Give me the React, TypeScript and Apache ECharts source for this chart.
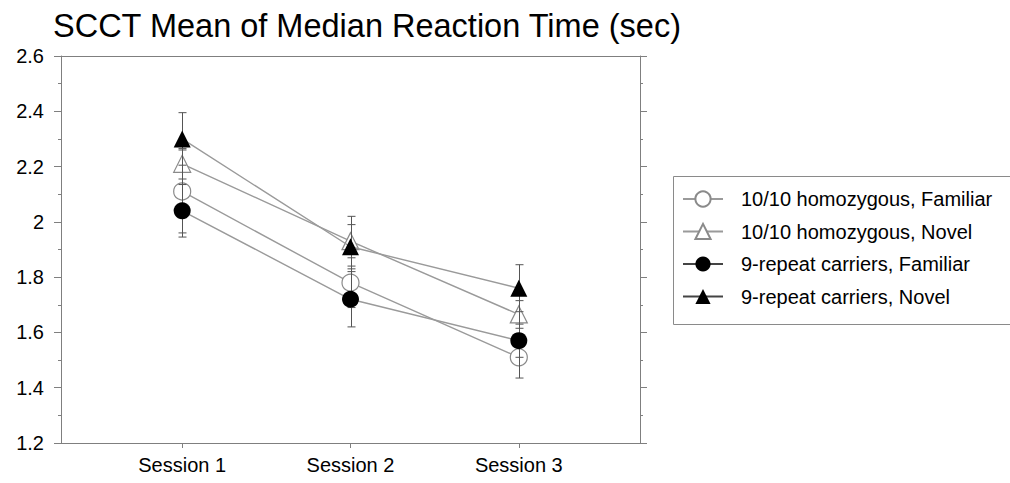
import React, { useEffect, useRef } from "react";
import * as echarts from "echarts";

const sessions = ["Session 1", "Session 2", "Session 3"];
const sessionTicks = [1, 2, 3];

const homFamiliar = [2.11, 1.78, 1.51];
const homFamiliarErr = [0.15, 0.09, 0.075];
const homNovel = [2.21, 1.93, 1.665];
const homNovelErr = [0.055, 0.09, 0.05];
const carFamiliar = [2.04, 1.72, 1.57];
const carFamiliarErr = [0.095, 0.1, 0.06];
const carNovel = [2.3, 1.91, 1.76];
const carNovelErr = [0.095, 0.08, 0.085];

const groups = [
  { name: "10/10 homozygous, Familiar", values: homFamiliar, errs: homFamiliarErr, symbol: "circle", filled: false },
  { name: "10/10 homozygous, Novel", values: homNovel, errs: homNovelErr, symbol: "triangle", filled: false },
  { name: "9-repeat carriers, Familiar", values: carFamiliar, errs: carFamiliarErr, symbol: "circle", filled: true },
  { name: "9-repeat carriers, Novel", values: carNovel, errs: carNovelErr, symbol: "triangle", filled: true },
];

const FONT = "'Liberation Sans', Arial, sans-serif";
const FRAME = "#7f7f7f";

export default function App() {
  const ref = useRef<HTMLDivElement>(null);
  useEffect(() => {
    if (!ref.current) return;
    const chart = echarts.init(ref.current, undefined, { renderer: "svg" });

    const lineSeries = groups.map((g) => ({
      type: "line",
      name: g.name,
      z: g.filled ? 4 : 2,
      data: g.values.map((v, i) => [sessionTicks[i], v]),
      symbol: g.symbol,
      symbolSize: 17,
      showSymbol: true,
      lineStyle: { color: "#9a9a9a", width: 1.4 },
      itemStyle: g.filled
        ? { color: "#000", borderColor: "#000", borderWidth: 0 }
        : { color: "#fff", borderColor: "#8a8a8a", borderWidth: 1.2 },
      emphasis: { disabled: true },
    }));

    const errData: number[][] = [];
    groups.forEach((g) => {
      g.values.forEach((v, i) => {
        errData.push([sessionTicks[i], v - g.errs[i], v + g.errs[i]]);
      });
    });

    const errSeries = {
      type: "custom",
      name: "err",
      z: 3,
      data: errData,
      encode: { x: 0, y: [1, 2] },
      renderItem: (params: any, api: any) => {
        const x = api.value(0);
        const lo = api.coord([x, api.value(1)]);
        const hi = api.coord([x, api.value(2)]);
        const w = 4;
        const style = { stroke: "#555", lineWidth: 1 };
        const cx = Math.round(lo[0]) + 0.5;
        return {
          type: "group",
          children: [
            { type: "line", shape: { x1: cx, y1: lo[1], x2: cx, y2: hi[1] }, style },
            { type: "line", shape: { x1: cx - w, y1: lo[1], x2: cx + w, y2: lo[1] }, style },
            { type: "line", shape: { x1: cx - w, y1: hi[1], x2: cx + w, y2: hi[1] }, style },
          ],
        };
      },
      silent: true,
    };

    chart.setOption({
      animation: false,
      title: {
        text: "SCCT Mean of Median Reaction Time (sec)",
        left: 48,
        top: 4,
        textStyle: { fontFamily: FONT, fontSize: 32.5, fontWeight: "normal", color: "#000" },
      },
      graphic: [
        {
          type: "rect",
          shape: { x: 673.5, y: 176.5, width: 400, height: 148 },
          style: { fill: "none", stroke: "#8a8a8a", lineWidth: 1 },
          silent: true,
        },
      ],
      legend: {
        orient: "vertical",
        left: 682,
        top: 189,
        padding: 0,
        itemWidth: 40,
        itemHeight: 19,
        itemGap: 12.5,
        selectedMode: false,
        textStyle: { fontFamily: FONT, fontSize: 20, color: "#000", padding: [0, 0, 0, 13] },
        data: groups.map((g) => ({
          name: g.name,
          lineStyle: { color: g.filled ? "#444" : "#9a9a9a" },
        })),
      },
      grid: { left: 61, right: 370, top: 56, bottom: 40, containLabel: false },
      xAxis: [
        {
          type: "value",
          min: 0.28,
          max: 3.72,
          position: "bottom",
          axisLine: { show: true, lineStyle: { color: FRAME, width: 1 } },
          axisTick: { show: true, length: 5, lineStyle: { color: FRAME }, customValues: sessionTicks },
          axisLabel: {
            show: true,
            customValues: sessionTicks,
            formatter: (v: number) => sessions[Math.round(v) - 1] ?? "",
            fontFamily: FONT,
            fontSize: 20,
            color: "#000",
            margin: 12,
          },
          splitLine: { show: false },
        },
        {
          type: "value",
          min: 0.28,
          max: 3.72,
          position: "top",
          axisLine: { show: true, lineStyle: { color: FRAME, width: 1 } },
          axisTick: { show: false },
          axisLabel: { show: false },
          splitLine: { show: false },
        },
      ],
      yAxis: [
        {
          type: "value",
          min: 1.2,
          max: 2.6,
          interval: 0.2,
          position: "left",
          axisLine: { show: true, lineStyle: { color: FRAME, width: 1 } },
          axisTick: { show: true, length: 7, lineStyle: { color: FRAME } },
          minorTick: { show: true, splitNumber: 2, length: 3, lineStyle: { color: FRAME } },
          axisLabel: {
            fontFamily: FONT,
            fontSize: 20,
            color: "#000",
            margin: 17,
            formatter: (v: number) => String(Math.round(v * 10) / 10),
          },
          splitLine: { show: false },
        },
        {
          type: "value",
          min: 1.2,
          max: 2.6,
          interval: 0.2,
          position: "right",
          axisLine: { show: true, lineStyle: { color: FRAME, width: 1 } },
          axisTick: { show: true, length: 7, lineStyle: { color: FRAME } },
          minorTick: { show: true, splitNumber: 2, length: 3, lineStyle: { color: FRAME } },
          axisLabel: { show: false },
          splitLine: { show: false },
        },
      ],
      series: [...lineSeries, errSeries],
    });
    return () => chart.dispose();
  }, []);
  return (
    <div
      ref={ref}
      style={{ position: "fixed", left: 0, top: 0, width: 1010, height: 483, background: "#fff" }}
    />
  );
}
